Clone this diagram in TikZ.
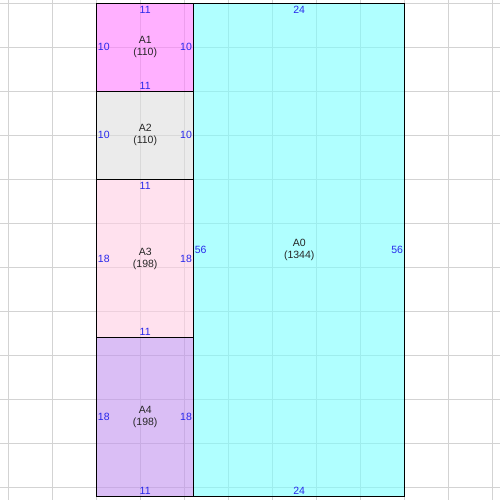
\documentclass[tikz,border=0pt]{standalone}
\usepackage{fontspec}
\setmainfont{Liberation Sans}
\usetikzlibrary{positioning}
\definecolor{cellA0}{RGB}{123,255,255}
\definecolor{cellA1}{RGB}{255,123,255}
\definecolor{cellA2}{RGB}{222,222,222}
\definecolor{cellA3}{RGB}{255,205,227}
\definecolor{cellA4}{RGB}{193,147,238}
\definecolor{gridgray}{RGB}{211,211,211}
\definecolor{sizeblue}{RGB}{40,40,235}
\begin{document}
\begin{tikzpicture}[x=8.8pt,y=8.8pt,
		cell/.style={draw=black, line width=1pt, fill opacity=.6, text opacity=1, align=center, inner sep=0pt,
			text=black!85, font=\fontsize{10.5}{12}\selectfont},
		sizelab/.style={text=sizeblue, inner xsep=1.5pt, font=\fontsize{10.5}{12}\selectfont},
		toplab/.style={sizelab, anchor=north, inner ysep=3pt},
		botlab/.style={sizelab, anchor=south, inner ysep=2pt},
		leftlab/.style={sizelab, anchor=west, inner ysep=0pt},
		rightlab/.style={sizelab, anchor=east, inner xsep=2pt, inner ysep=0pt}]
			\useasboundingbox (-11,-0.44) rectangle (45.82,56.375);
			% background grid
			\foreach \gx in {-10,-5,...,45} \draw [gridgray, line width=.8pt] (\gx,-0.44) -- (\gx,56.375);
			\foreach \gy in {1,6,...,56} \draw [gridgray, line width=.8pt] (-11,\gy) -- (45.82,\gy);
			% cells
			\node [cell, fill=cellA1, minimum width=96.8pt, minimum height=88pt] (a1) at (5.5,51) {A1\\(110)};
			\node [cell, fill=cellA2, minimum width=96.8pt, minimum height=88pt] (a2) at (5.5,41) {A2\\(110)};
			\node [cell, fill=cellA3, minimum width=96.8pt, minimum height=158.4pt] (a3) at (5.5,27) {A3\\(198)};
			\node [cell, fill=cellA4, minimum width=96.8pt, minimum height=158.4pt] (a4) at (5.5,9) {A4\\(198)};
			\node [cell, fill=cellA0, minimum width=211.2pt, minimum height=492.8pt] (a0) at (23,28) {A0\\(1344)};
			% edge lengths
			\node [toplab] (a1t) at (a1.north) {11};   \node [botlab] (a1b) at (a1.south) {11};
			\node [leftlab] (a1l) at (a1.west) {10};   \node [rightlab] (a1r) at (a1.east) {10};
			\node [leftlab] (a2l) at (a2.west) {10};   \node [rightlab] (a2r) at (a2.east) {10};
			\node [toplab] (a3t) at (a3.north) {11};   \node [botlab] (a3b) at (a3.south) {11};
			\node [leftlab] (a3l) at (a3.west) {18};   \node [rightlab] (a3r) at (a3.east) {18};
			\node [botlab] (a4b) at (a4.south) {11};
			\node [leftlab] (a4l) at (a4.west) {18};   \node [rightlab] (a4r) at (a4.east) {18};
			\node [toplab] (a0t) at (a0.north) {24};   \node [botlab] (a0b) at (a0.south) {24};
			\node [leftlab] (a0l) at (a0.west) {56};   \node [rightlab] (a0r) at (a0.east) {56};
\end{tikzpicture}
\end{document}
